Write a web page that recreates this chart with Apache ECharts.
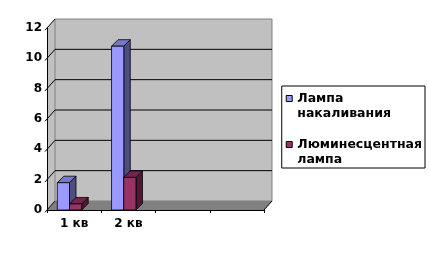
<!DOCTYPE html>
<html>
<head>
<meta charset="utf-8">
<script src="https://cdn.jsdelivr.net/npm/echarts@6/dist/echarts.min.js"></script>
<style>
html,body{margin:0;padding:0;background:#fff;}
#chart{width:430px;height:254px;}
</style>
</head>
<body>
<div id="chart"></div>
<script>
// ---- data ----
const categories = ['1 кв', '2 кв', '', ''];
const yTicks = [0, 2, 4, 6, 8, 10, 12];
const seriesNames = ['Лампа накаливания', 'Люминесцентная лампа'];
const lampValues = [1.8, 10.8];
const lumValues = [0.4, 2.15];

// ---- style ----
const FONT = 'DejaVu Sans';
const WALL_DX = 8, WALL_DY = -9;
const BAR_DX = 6.5, BAR_DY = -6.5;
const faceColors = [
  { front: '#9999FF', top: '#7777CC', side: '#4D4D80' },
  { front: '#993366', top: '#73264D', side: '#4D1A33' }
];

const chart = echarts.init(document.getElementById('chart'), null, { renderer: 'canvas' });

function wallRender(params, api) {
  const bw = api.size([1, 0])[0];
  const x0 = api.coord([0, 0])[0] - bw / 2;
  const x1 = api.coord([categories.length - 1, 0])[0] + bw / 2;
  const yMin = api.coord([0, yTicks[0]])[1];
  const yMax = api.coord([0, yTicks[yTicks.length - 1]])[1];
  const children = [];
  children.push({ type: 'polygon', shape: { points: [[x0, yMin], [x0, yMax], [x0 + WALL_DX, yMax + WALL_DY], [x0 + WALL_DX, yMin + WALL_DY]] },
    style: { fill: '#C0C0C0', stroke: null } });
  children.push({ type: 'rect', shape: { x: x0 + WALL_DX, y: yMax + WALL_DY, width: x1 - x0, height: yMin - yMax },
    style: { fill: '#C0C0C0', stroke: '#808080', lineWidth: 1 } });
  children.push({ type: 'polygon', shape: { points: [[x0, yMin], [x1, yMin], [x1 + WALL_DX, yMin + WALL_DY], [x0 + WALL_DX, yMin + WALL_DY]] },
    style: { fill: '#808080', stroke: null } });
  children.push({ type: 'line', shape: { x1: x1, y1: yMin, x2: x1 + WALL_DX, y2: yMin + WALL_DY },
    style: { stroke: '#000', lineWidth: 1 } });
  yTicks.forEach(function (t, i) {
    const y = api.coord([0, t])[1];
    if (i > 0 && i < yTicks.length - 1) {
      children.push({ type: 'line', shape: { x1: x0 + WALL_DX, y1: y + WALL_DY, x2: x1 + WALL_DX, y2: y + WALL_DY },
        style: { stroke: '#000', lineWidth: 1 } });
    }
    children.push({ type: 'line', shape: { x1: x0 - 2, y1: y + 2 * (-WALL_DY / WALL_DX), x2: x0 + WALL_DX, y2: y + WALL_DY },
      style: { stroke: '#000', lineWidth: 1 } });
  });
  return { type: 'group', children: children };
}

function barRender(si) {
  return function (params, api) {
    const cat = api.value(0), val = api.value(1);
    const bw = api.size([1, 0])[0];
    const c = api.coord([cat, 0]);
    const yTop = api.coord([cat, val])[1];
    const w = 0.225 * bw;
    const left = c[0] - 0.31 * bw + si * w;
    const right = left + w;
    const yb = c[1];
    const col = faceColors[si];
    const st = { stroke: '#000', lineWidth: 0.8 };
    return { type: 'group', children: [
      { type: 'polygon', shape: { points: [[right, yb], [right, yTop], [right + BAR_DX, yTop + BAR_DY], [right + BAR_DX, yb + BAR_DY]] },
        style: Object.assign({ fill: col.side }, st) },
      { type: 'polygon', shape: { points: [[left, yTop], [right, yTop], [right + BAR_DX, yTop + BAR_DY], [left + BAR_DX, yTop + BAR_DY]] },
        style: Object.assign({ fill: col.top }, st) },
      { type: 'rect', shape: { x: left, y: yTop, width: w, height: yb - yTop },
        style: Object.assign({ fill: col.front }, st) }
    ] };
  };
}

const iconPath = 'path://M0,0M6,30M0,4L6,4L6,10L0,10Z';

const option = {
  animation: false,
  backgroundColor: '#fff',
  grid: { left: 47, top: 28, right: 166, bottom: 44, containLabel: false },
  xAxis: {
    type: 'category',
    data: categories,
    boundaryGap: true,
    axisLine: { show: true, lineStyle: { color: '#000', width: 1 } },
    axisTick: { show: true, interval: 0, length: 3, lineStyle: { color: '#000' } },
    axisLabel: { interval: 0, margin: 8, color: '#000', fontFamily: FONT, fontWeight: 'bold', fontSize: 12 },
    splitLine: { show: false }
  },
  yAxis: {
    type: 'value',
    min: 0, max: 12, interval: 2,
    axisLine: { show: true, lineStyle: { color: '#000', width: 1 } },
    axisTick: { show: false },
    axisLabel: { margin: 5, color: '#000', fontFamily: FONT, fontWeight: 'bold', fontSize: 12 },
    splitLine: { show: false }
  },
  legend: {
    orient: 'vertical',
    right: 5, top: 86,
    padding: [5, 3, 0, 4],
    itemGap: 15,
    itemWidth: 6, itemHeight: 30,
    borderColor: '#000', borderWidth: 1,
    data: [
      { name: seriesNames[0], icon: iconPath },
      { name: seriesNames[1], icon: iconPath }
    ],
    formatter: function (n) { return n.replace(' ', '\n'); },
    itemStyle: { borderColor: '#000', borderWidth: 1 },
    textStyle: { color: '#000', fontFamily: FONT, fontWeight: 'bold', fontSize: 12.5, lineHeight: 15 }
  },
  series: [
    { type: 'custom', name: 'wall', silent: true, z: -1, renderItem: wallRender, data: [[0, 0]] },
    { type: 'custom', name: seriesNames[0], itemStyle: { color: faceColors[0].front }, renderItem: barRender(0),
      data: lampValues.map(function (v, i) { return [i, v]; }) },
    { type: 'custom', name: seriesNames[1], itemStyle: { color: faceColors[1].front }, renderItem: barRender(1),
      data: lumValues.map(function (v, i) { return [i, v]; }) }
  ]
};
chart.setOption(option);
</script>
</body>
</html>
